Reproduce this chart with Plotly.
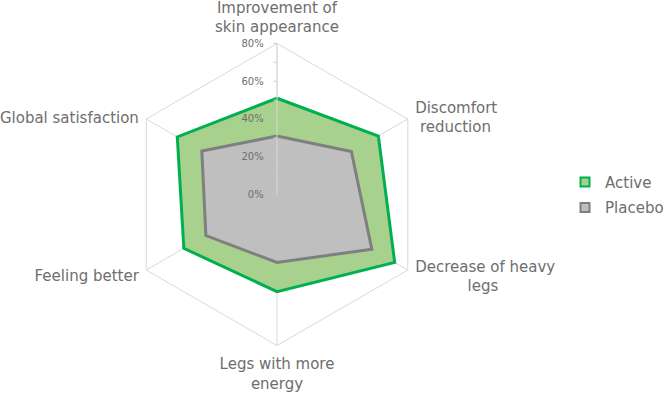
import plotly.graph_objects as go

categories = ["Improvement of skin appearance", "Discomfort reduction", "Decrease of heavy legs",
              "Legs with more energy", "Feeling better", "Global satisfaction"]
# axis labels as wrapped in the original (centred lines; blank lines only shift the block)
NB = "\u00a0"
category_labels = [
    "Improvement of<br>skin appearance",
    NB + "<br>" + NB + "<br>Discomfort<br>" + NB + "reduction",
    "Decrease of heavy<br>" + NB * 11 + "legs<br>" + NB + "<br>" + NB,
    "Legs with more<br>energy",
    "Feeling better<br>" + NB,
    NB + "<br>Global satisfaction",
]
active = [51, 62, 72, 51.5, 57, 61]
placebo = [31, 45.5, 58, 36, 43.5, 46]
radial_ticks = [0, 10, 20, 30, 40, 50, 60, 70, 80]
radial_labels = ["0%", "", "20%", "", "40%", "", "60%", "", "80%"]
series_names = ["Active", "Placebo"]

text_color = "#6e6e6e"
grid_color = "#d9d9d9"
line_colors = ["#00b050", "#7f7f7f"]
fill_colors = ["#a9d18e", "#bfbfbf"]
font_family = "DejaVu Sans, Verdana, sans-serif"

fig = go.Figure()
for name, vals, lc, fc in zip(series_names, [active, placebo], line_colors, fill_colors):
    fig.add_trace(go.Scatterpolar(
        r=vals + vals[:1], theta=categories + categories[:1], name=name,
        mode="lines", fill="toself", fillcolor=fc,
        line=dict(color=lc, width=3), showlegend=False,
    ))
# legend entries (square markers, like the original)
for name, lc, fc in zip(series_names, line_colors, fill_colors):
    fig.add_trace(go.Scatterpolar(
        r=[None], theta=[None], name=name, mode="markers",
        marker=dict(symbol="square", size=9, color=fc, line=dict(color=lc, width=2)),
        legendgroup=name, showlegend=True,
    ))

fig.update_layout(
    width=669, height=394,
    margin=dict(l=0, r=0, t=0, b=0),
    paper_bgcolor="white",
    font=dict(family=font_family, color=text_color, size=15),
    polar=dict(
        domain=dict(x=[126/669, 428/669], y=[1-345.5/394, 1-43.5/394]),
        bgcolor="white",
        gridshape="linear",
        angularaxis=dict(
            direction="clockwise", rotation=90,
            categoryorder="array", categoryarray=categories,
            tickmode="array", tickvals=categories, ticktext=category_labels,
            showline=True, linecolor=grid_color, linewidth=1,
            showgrid=True, gridcolor=grid_color, gridwidth=1,
            ticks="outside", ticklen=5, tickcolor="rgba(0,0,0,0)",
            tickfont=dict(family=font_family, size=15, color=text_color),
            layer="below traces",
        ),
        radialaxis=dict(
            range=[0, 80], angle=90, tickangle=90,
            tickvals=radial_ticks, ticktext=[t + NB * 2 if t else t for t in radial_labels],
            tickfont=dict(family=font_family, size=10, color=text_color),
            showgrid=False, showline=True, linecolor=grid_color, linewidth=1,
            ticks="outside", ticklen=3, tickcolor="#c8c8c8", side="counterclockwise",
            layer="above traces",
        ),
    ),
    legend=dict(
        x=1, y=0.506, xanchor="right", yanchor="middle",
        font=dict(family=font_family, size=15, color=text_color),
        tracegroupgap=3, itemwidth=30,
        bgcolor="rgba(0,0,0,0)",
    ),
)

fig.write_html("out.html")
